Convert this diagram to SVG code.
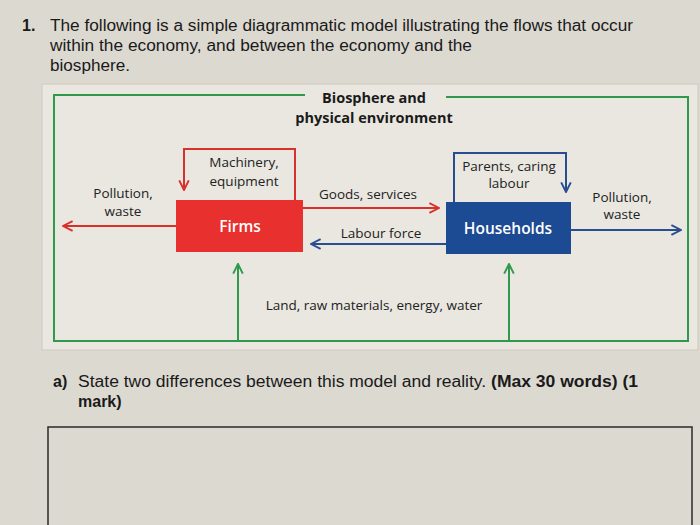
<svg xmlns="http://www.w3.org/2000/svg" width="700" height="525" viewBox="0 0 700 525">
<defs>
<style>
.q{font-family:"Liberation Sans",Arial,sans-serif;font-size:16px;fill:#1a1a1a}
.qb{font-weight:bold}
.d{font-family:"Open Sans","Noto Sans",sans-serif;font-size:13.5px;fill:#222}
.t{font-family:"Open Sans","Noto Sans",sans-serif;font-size:14.5px;font-weight:bold;fill:#1a1a1a}
.w{font-family:"Open Sans","Noto Sans",sans-serif;font-size:15.5px;font-weight:600;fill:#fff}
.r{stroke:#d8312c;stroke-width:2;fill:none}
.b{stroke:#2a4d8f;stroke-width:2;fill:none}
.g{stroke:#2f9a4c;stroke-width:2;fill:none}
</style>
<marker id="ar" viewBox="0 0 10 10" refX="9" refY="5" markerWidth="12" markerHeight="12" markerUnits="userSpaceOnUse" orient="auto"><path d="M1,1 L9,5 L1,9" fill="none" stroke="#d8312c" stroke-width="1.6"/></marker>
<marker id="ab" viewBox="0 0 10 10" refX="9" refY="5" markerWidth="12" markerHeight="12" markerUnits="userSpaceOnUse" orient="auto"><path d="M1,1 L9,5 L1,9" fill="none" stroke="#2a4d8f" stroke-width="1.6"/></marker>
<marker id="ag" viewBox="0 0 10 10" refX="9" refY="5" markerWidth="12" markerHeight="12" markerUnits="userSpaceOnUse" orient="auto"><path d="M1,1 L9,5 L1,9" fill="none" stroke="#2f9a4c" stroke-width="1.6"/></marker>
</defs>
<rect width="700" height="525" fill="#dcd9d1"/>
<rect x="42" y="84" width="656" height="266" fill="#e9e7e0" stroke="#cfc9bd" stroke-width="1"/>
<g id="question">
<text class="q qb" x="22" y="31">1.</text>
<text class="q" x="50" y="31" textLength="583" lengthAdjust="spacingAndGlyphs">The following is a simple diagrammatic model illustrating the flows that occur</text>
<text class="q" x="50" y="51" textLength="422" lengthAdjust="spacingAndGlyphs">within the economy, and between the economy and the</text>
<text class="q" x="50" y="71" textLength="80" lengthAdjust="spacingAndGlyphs">biosphere.</text>
</g>
<g id="biosphere">
<path class="g" d="M305,95 H54 V341 H688 V97 H446"/>
<text class="t" x="374" y="103" text-anchor="middle">Biosphere and</text>
<text class="t" x="374" y="123" text-anchor="middle">physical environment</text>
</g>
<g id="connectors">
<path class="r" d="M295,200 V149 H184 V190" marker-end="url(#ar)"/>
<path class="b" d="M454,202 V153 H566 V192" marker-end="url(#ab)"/>
<path class="r" d="M303,208 H439" marker-end="url(#ar)"/>
<path class="b" d="M446,244 H311" marker-end="url(#ab)"/>
<path class="r" d="M176,226 H63" marker-end="url(#ar)"/>
<path class="b" d="M571,230 H681" marker-end="url(#ab)"/>
<path class="g" d="M238,341 V264" marker-end="url(#ag)"/>
<path class="g" d="M509,341 V264" marker-end="url(#ag)"/>
<text class="d" x="244" y="167" text-anchor="middle">Machinery,</text>
<text class="d" x="244" y="186" text-anchor="middle">equipment</text>
<text class="d" x="509" y="171" text-anchor="middle">Parents, caring</text>
<text class="d" x="509" y="188" text-anchor="middle">labour</text>
<text class="d" x="368" y="199" text-anchor="middle">Goods, services</text>
<text class="d" x="381" y="238" text-anchor="middle">Labour force</text>
<text class="d" x="123" y="198" text-anchor="middle">Pollution,</text>
<text class="d" x="123" y="216" text-anchor="middle">waste</text>
<text class="d" x="622" y="202" text-anchor="middle">Pollution,</text>
<text class="d" x="622" y="219" text-anchor="middle">waste</text>
<text class="d" x="374" y="310" text-anchor="middle">Land, raw materials, energy, water</text>
</g>
<g id="firms">
<rect x="176" y="200" width="127" height="52" fill="#e8302e"/>
<text class="w" x="240" y="232" text-anchor="middle">Firms</text>
</g>
<g id="households">
<rect x="446" y="202" width="125" height="52" fill="#1c4a93"/>
<text class="w" x="508" y="234" text-anchor="middle">Households</text>
</g>
<g id="part-a">
<text class="q qb" x="53" y="387">a)</text>
<text class="q" x="78" y="387" textLength="560" lengthAdjust="spacingAndGlyphs">State two differences between this model and reality. <tspan class="qb">(Max 30 words) (1</tspan></text>
<text class="q qb" x="78" y="407">mark)</text>
<rect x="48" y="427" width="644" height="110" fill="none" stroke="#2a2a2a" stroke-width="1.5"/>
</g>
</svg>
